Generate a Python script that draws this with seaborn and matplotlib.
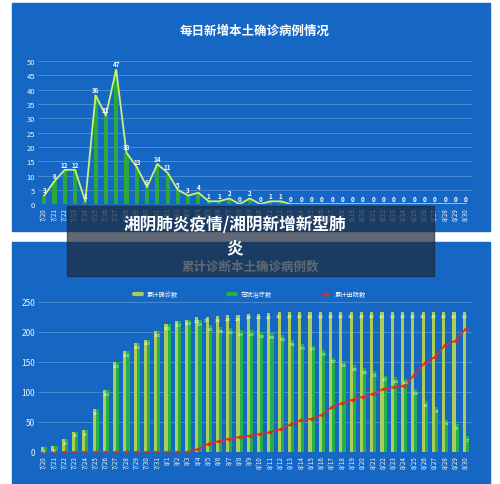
import matplotlib
matplotlib.use("Agg")
import matplotlib.pyplot as plt
import seaborn as sns
import numpy as np
import pandas as pd
from matplotlib.patches import Rectangle
from matplotlib.lines import Line2D

sns.set_theme(style="white")
plt.rcParams['font.family'] = ['Noto Sans CJK SC', 'DejaVu Sans']

dates = ["7/20","7/21","7/22","7/23","7/24","7/25","7/26","7/27","7/28","7/29","7/30","7/31",
         "8/1","8/2","8/3","8/4","8/5","8/6","8/7","8/8","8/9","8/10","8/11","8/12","8/13",
         "8/14","8/15","8/16","8/17","8/18","8/19","8/20","8/21","8/22","8/23","8/24","8/25",
         "8/26","8/27","8/28","8/29","8/30"]
daily_new = [3,8,12,12,1,38,31,47,18,13,6,14,11,5,3,4,1,1,2,0,2,0,1,1,0,
             0,0,0,0,0,0,0,0,0,0,0,0,0,0,0,0,0]
cumulative = [8,10,22,34,36,72,103,150,168,181,187,201,212,217,220,224,225,226,228,228,230,230,
              231,232,232,232,232,232,232,232,232,232,232,232,232,232,232,232,232,232,232,232]
discharged = [0,0,0,0,0,0,0,0,0,0,0,0,0,0,0,5,14,18,22,25,27,30,33,38,46,53,55,62,75,81,87,92,97,
              105,108,110,128,148,158,178,185,205]
in_hospital = [c - d for c, d in zip(cumulative, discharged)]

BLUE = "#1667c4"
fig = plt.figure(figsize=(5, 4.85), dpi=100, facecolor="white")
fig.patches.append(Rectangle((0.024, 0.522), 0.956, 0.47, transform=fig.transFigure, color=BLUE, zorder=-5))
fig.patches.append(Rectangle((0.024, 0.0), 0.956, 0.50, transform=fig.transFigure, color=BLUE, zorder=-5))

x = np.arange(len(dates))
tc = "#eef4fb"

# top chart
ax1 = fig.add_axes([0.076, 0.577, 0.868, 0.295])
ax1.patch.set_alpha(0)
df1 = pd.DataFrame({"date": dates, "v": daily_new})
sns.barplot(data=df1, x="date", y="v", color="#2aa83a", width=0.4, ax=ax1, saturation=1, linewidth=0)
sns.lineplot(x=x, y=daily_new, color="#c8f07a", lw=1.3, ax=ax1)
for i, v in enumerate(daily_new):
    ax1.text(i, v + 0.8, str(v), ha="center", va="bottom", fontsize=4.5, color="white", fontweight="bold")
ax1.set_ylim(0, 50); ax1.set_yticks(range(0, 51, 5))
ax1.set_xlim(-0.6, len(dates) - 0.4)
ax1.grid(axis="y", color="#4f8fd8", lw=0.6)
ax1.set_axisbelow(True)
for s in ax1.spines.values(): s.set_visible(False)
ax1.tick_params(colors=tc, labelsize=5.5, length=0, pad=2)
ax1.set_xticks(x); ax1.set_xticklabels(dates, rotation=90, fontsize=4.5)
ax1.set_xlabel(""); ax1.set_ylabel("")
fig.text(0.51, 0.935, "每日新增本土确诊病例情况", ha="center", va="center", fontsize=9, color="white", fontweight="bold")

# bottom chart
ax2 = fig.add_axes([0.076, 0.066, 0.868, 0.31])
ax2.patch.set_alpha(0)
df2 = pd.DataFrame({"date": dates * 2, "v": cumulative + in_hospital,
                    "s": ["累计确诊数"] * len(dates) + ["在院治疗数"] * len(dates)})
sns.barplot(data=df2, x="date", y="v", hue="s", palette=["#a9cf5a", "#23b04a"], width=0.6,
            ax=ax2, saturation=1, legend=False, linewidth=0)
sns.lineplot(x=x, y=discharged, color="#d8302a", lw=1.2, marker="o", markersize=2, mec="#d8302a", ax=ax2)
for i in range(len(dates)):
    if in_hospital[i] == cumulative[i]:
        ax2.text(i, cumulative[i] - 8, str(cumulative[i]), ha="center", fontsize=3, color="white")
    else:
        ax2.text(i - 0.15, cumulative[i] - 8, str(cumulative[i]), ha="center", fontsize=2.5, color="white")
        ax2.text(i + 0.15, in_hospital[i] - 8, str(in_hospital[i]), ha="center", fontsize=2.5, color="white")
ax2.set_ylim(0, 250); ax2.set_yticks(range(0, 251, 50))
ax2.set_xlim(-0.6, len(dates) - 0.4)
ax2.grid(axis="y", color="#4f8fd8", lw=0.6)
ax2.set_axisbelow(True)
for s in ax2.spines.values(): s.set_visible(False)
ax2.tick_params(colors=tc, labelsize=6, length=0, pad=2)
ax2.set_xticks(x); ax2.set_xticklabels(dates, rotation=90, fontsize=4.5)
ax2.set_xlabel(""); ax2.set_ylabel("")
h = [Line2D([], [], color="#a9cf5a", lw=3), Line2D([], [], color="#23b04a", lw=3),
     Line2D([], [], color="#d8302a", lw=1, marker="o", markersize=2)]
fig.legend(h, ["累计确诊数", "在院治疗数", "累计出院数"], loc="center", bbox_to_anchor=(0.5, 0.392),
           ncol=3, frameon=False, fontsize=4.5, labelcolor="white", columnspacing=8, handlelength=1.2)
fig.text(0.5, 0.448, "累计诊断本土确诊病例数", ha="center", va="center", fontsize=9, color="white", fontweight="bold")

# overlay caption
fig.patches.append(Rectangle((0.134, 0.428), 0.733, 0.145, transform=fig.transFigure,
                             color="#1c2a3a", alpha=0.7, zorder=5))
fig.text(0.47, 0.537, "湘阴肺炎疫情/湘阴新增新型肺", ha="center", va="center", fontsize=12,
         color="white", fontweight="bold", zorder=6)
fig.text(0.47, 0.487, "炎", ha="center", va="center", fontsize=12, color="white", fontweight="bold", zorder=6)

fig.savefig("out.png", dpi=100, facecolor="white")
